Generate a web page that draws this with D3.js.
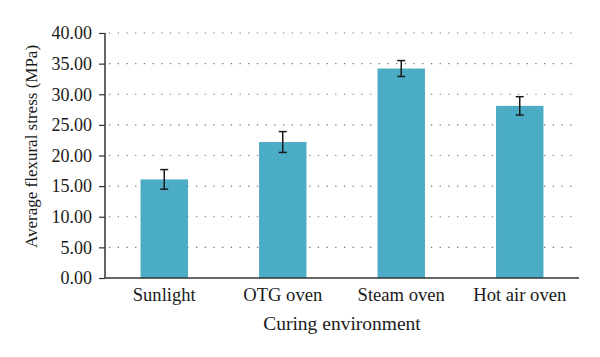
<!DOCTYPE html>
<html><head><meta charset="utf-8">
<script src="https://cdn.jsdelivr.net/npm/d3@7"></script>
<style>body{margin:0;background:#fff}svg{display:block}</style>
</head><body><svg id="c" width="600" height="357"></svg>
<script>
const categories = ["Sunlight", "OTG oven", "Steam oven", "Hot air oven"];
const values = [16.1, 22.2, 34.2, 28.1];
const errors = [1.6, 1.7, 1.3, 1.5];
const yTicks = [0, 5, 10, 15, 20, 25, 30, 35, 40];
const yTitle = "Average flexural stress (MPa)";
const xTitle = "Curing environment";

const FONT = '"Liberation Serif"';
const svg = d3.select("#c");
const L = 105, R = 579, T = 33, B = 278;
const x = d3.scaleBand().domain(categories).range([L, R]).paddingInner(0.6).paddingOuter(0.3);
const y = d3.scaleLinear().domain([0, 40]).range([B, T]);

// grid
svg.append("g").selectAll("line").data(yTicks.filter(d => d > 0)).join("line")
  .attr("x1", L + 4).attr("x2", R - 3)
  .attr("y1", d => y(d)).attr("y2", d => y(d))
  .attr("stroke", "#777").attr("stroke-width", 1.2).attr("stroke-dasharray", "1.3,7.4");

// bars
svg.append("g").selectAll("rect").data(categories).join("rect")
  .attr("x", d => x(d)).attr("width", x.bandwidth())
  .attr("y", (d, i) => y(values[i])).attr("height", (d, i) => B - y(values[i]))
  .attr("fill", "#4BACC6");

// error bars
const eg = svg.append("g").attr("stroke", "#1a1a1a").attr("stroke-width", 1.5);
categories.forEach((c, i) => {
  const cx = x(c) + x.bandwidth() / 2;
  const y1 = y(values[i] + errors[i]), y2 = y(values[i] - errors[i]);
  eg.append("line").attr("x1", cx).attr("x2", cx).attr("y1", y1).attr("y2", y2);
  eg.append("line").attr("x1", cx - 4).attr("x2", cx + 4).attr("y1", y1).attr("y2", y1);
  eg.append("line").attr("x1", cx - 4).attr("x2", cx + 4).attr("y1", y2).attr("y2", y2);
});

// y axis
const ya = svg.append("g").attr("transform", `translate(${L},0)`)
  .call(d3.axisLeft(y).tickValues(yTicks).tickFormat(d3.format(".2f")).tickSize(6).tickPadding(7));
ya.attr("font-family", null).attr("font-size", null);
ya.select(".domain").attr("stroke", "#333").attr("stroke-width", 1.5).attr("d", `M0,${T}V${B}`);
ya.selectAll(".tick line").attr("stroke", "#333").attr("stroke-width", 1.2);
ya.selectAll(".tick text").attr("fill", "#1a1a1a").attr("font-family", FONT).attr("font-size", 18);

// x axis
const xa = svg.append("g").attr("transform", `translate(0,${B})`)
  .call(d3.axisBottom(x).tickSize(0).tickPadding(10));
xa.attr("font-family", null).attr("font-size", null);
xa.select(".domain").attr("stroke", "#333").attr("stroke-width", 1.5).attr("d", `M${L},0H${R}`);
xa.selectAll(".tick text").attr("fill", "#1a1a1a").attr("font-family", FONT).attr("font-size", 18.6);

svg.append("text").attr("x", (L + R) / 2).attr("y", 330).attr("text-anchor", "middle")
  .attr("font-family", FONT).attr("font-size", 19.5).attr("fill", "#1a1a1a").text(xTitle);
svg.append("text").attr("transform", `translate(37,146.5) rotate(-90)`).attr("text-anchor", "middle")
  .attr("font-family", FONT).attr("font-size", 17).attr("fill", "#1a1a1a").text(yTitle);
</script></body></html>
